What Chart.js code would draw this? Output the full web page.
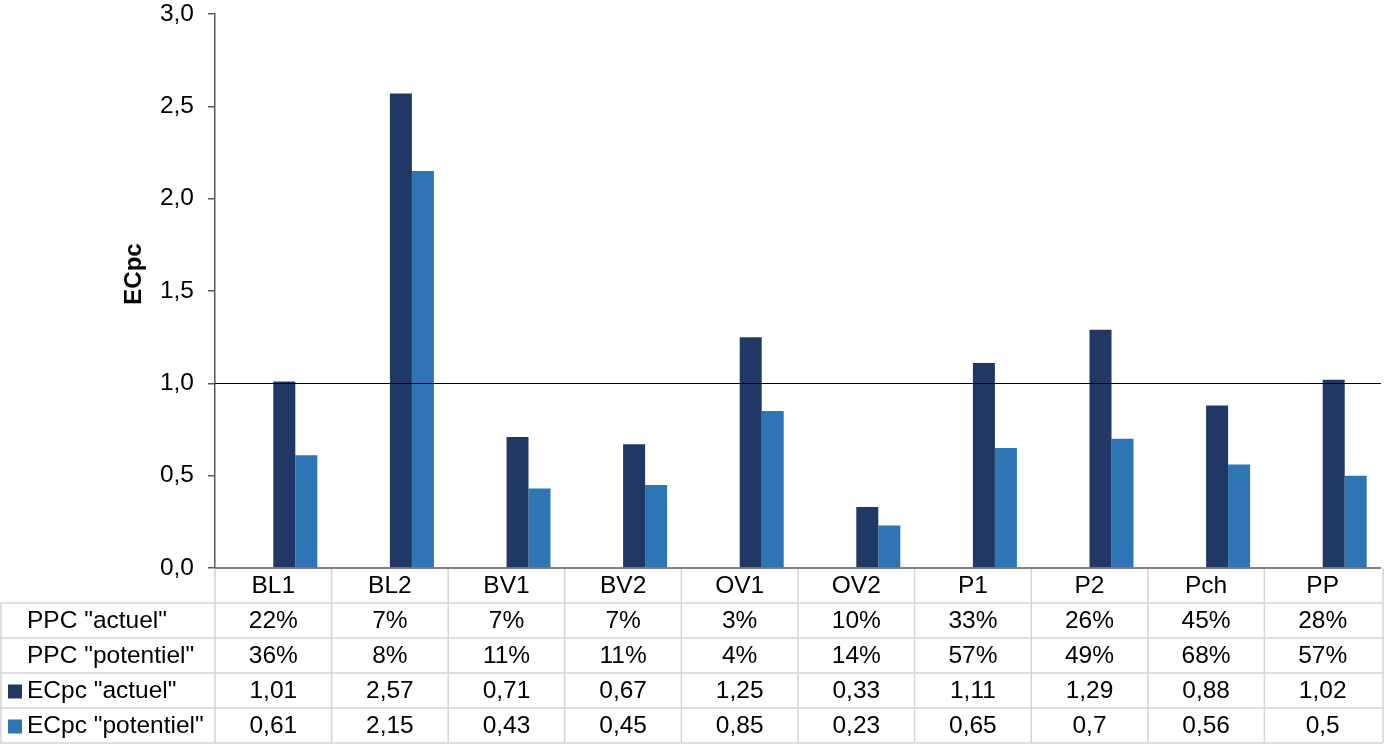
<!DOCTYPE html>
<html>
<head>
<meta charset="utf-8">
<script src="https://cdn.jsdelivr.net/npm/chart.js@4"></script>
<style>
html,body{margin:0;padding:0;background:#fff;}
#wrap{width:1386px;height:745px;position:relative;}
</style>
</head>
<body>
<div id="wrap"><canvas id="c" width="1386" height="745"></canvas></div>
<script>
const categories = ["BL1","BL2","BV1","BV2","OV1","OV2","P1","P2","Pch","PP"];
const ppcActuel = [22,7,7,7,3,10,33,26,45,28];
const ppcPotentiel = [36,8,11,11,4,14,57,49,68,57];
const ecpcActuel = [1.01,2.57,0.71,0.67,1.25,0.33,1.11,1.29,0.88,1.02];
const ecpcPotentiel = [0.61,2.15,0.43,0.45,0.85,0.23,0.65,0.7,0.56,0.5];
const yTicks = [0,0.5,1,1.5,2,2.5,3];
const threshold = 1.0;

const FONT = '"Liberation Sans", Arial, sans-serif';
const DARK = '#203864';
const LIGHT = '#2E75B6';

const rows = [
  {label:'PPC "actuel"', values: ppcActuel.map(v=>v+'%'), color:null},
  {label:'PPC "potentiel"', values: ppcPotentiel.map(v=>v+'%'), color:null},
  {label:'ECpc "actuel"', values: ecpcActuel.map(v=>String(v).replace('.',',')), color:DARK},
  {label:'ECpc "potentiel"', values: ecpcPotentiel.map(v=>String(v).replace('.',',')), color:LIGHT}
];

const tablePlugin = {
  id:'tablePlugin',
  afterDatasetsDraw(chart){
    const ctx = chart.ctx, ca = chart.chartArea;
    const y = chart.scales.y;
    const ty = Math.round(y.getPixelForValue(threshold)) + 0.5;
    ctx.save();
    ctx.strokeStyle = '#000'; ctx.lineWidth = 1.2;
    ctx.beginPath(); ctx.moveTo(ca.left, ty); ctx.lineTo(ca.right, ty); ctx.stroke();
    ctx.restore();
  },
  afterDraw(chart){
    const ctx = chart.ctx, ca = chart.chartArea;
    const x = chart.scales.x;
    const n = categories.length;
    const w = (ca.right - ca.left)/n;
    const top = ca.bottom;
    const rowH = 35;
    const right = ca.right + 2;
    ctx.save();
    ctx.strokeStyle = '#d4d4d4'; ctx.lineWidth = 1.5;
    ctx.beginPath();
    for(let r=1;r<=5;r++){
      const yy = top + r*rowH;
      ctx.moveTo(0, yy); ctx.lineTo(right, yy);
    }
    ctx.moveTo(1, top+rowH); ctx.lineTo(1, top+5*rowH);
    for(let i=0;i<n;i++){
      const bx = x.getPixelForValue(i) - w/2;
      ctx.moveTo(bx, top); ctx.lineTo(bx, top+5*rowH);
    }
    ctx.moveTo(right, top); ctx.lineTo(right, top+5*rowH);
    ctx.stroke();
    ctx.strokeStyle = '#595959'; ctx.lineWidth = 1.5;
    ctx.beginPath(); ctx.moveTo(ca.left, top); ctx.lineTo(ca.right, top); ctx.stroke();
    ctx.fillStyle = '#000';
    ctx.font = '24.5px ' + FONT;
    ctx.textAlign = 'center'; ctx.textBaseline = 'middle';
    for(let i=0;i<n;i++){
      ctx.fillText(categories[i], x.getPixelForValue(i), top + rowH/2 + 1);
    }
    rows.forEach((row, r)=>{
      const cy = top + (r+1)*rowH + rowH/2 + 1;
      ctx.textAlign = 'left';
      if(row.color){
        ctx.fillStyle = row.color;
        ctx.fillRect(8, cy-7, 14, 14);
      }
      ctx.fillStyle = '#000';
      ctx.fillText(row.label, 27, cy);
      ctx.textAlign = 'center';
      row.values.forEach((v,i)=>ctx.fillText(v, x.getPixelForValue(i), cy));
    });
    ctx.save();
    ctx.translate(134, 274);
    ctx.rotate(-Math.PI/2);
    ctx.font = 'bold 24px ' + FONT;
    ctx.textAlign = 'center'; ctx.textBaseline = 'middle';
    ctx.fillText('ECpc', 0, 0);
    ctx.restore();
    ctx.restore();
  }
};

new Chart(document.getElementById('c'), {
  type:'bar',
  data:{
    labels: categories,
    datasets:[
      {label:'PPC "actuel"', data: ppcActuel.map(v=>v/100), backgroundColor:'rgba(0,0,0,0)'},
      {label:'PPC "potentiel"', data: ppcPotentiel.map(v=>v/100), backgroundColor:'rgba(0,0,0,0)'},
      {label:'ECpc "actuel"', data: ecpcActuel, backgroundColor: DARK},
      {label:'ECpc "potentiel"', data: ecpcPotentiel, backgroundColor: LIGHT}
    ]
  },
  options:{
    responsive:false,
    animation:false,
    devicePixelRatio:1,
    layout:{padding:{top:0,bottom:177,left:0,right:5}},
    datasets:{bar:{categoryPercentage:0.755, barPercentage:1.0}},
    plugins:{legend:{display:false}, tooltip:{enabled:false}},
    scales:{
      x:{display:false},
      y:{
        min:0, max:3,
        afterFit(scale){ scale.width = 215; scale.paddingTop = 14; },
        afterBuildTicks(scale){ scale.ticks = yTicks.map(v=>({value:v})); },
        ticks:{
          font:{family:FONT, size:24.5},
          color:'#000',
          padding:14,
          callback:(v)=>Number(v).toFixed(1).replace('.',',')
        },
        grid:{drawOnChartArea:false, drawTicks:true, tickLength:7, color:'#595959', lineWidth:1.5},
        border:{display:true, color:'#595959', width:1.5}
      }
    }
  },
  plugins:[tablePlugin]
});
</script>
</body>
</html>
